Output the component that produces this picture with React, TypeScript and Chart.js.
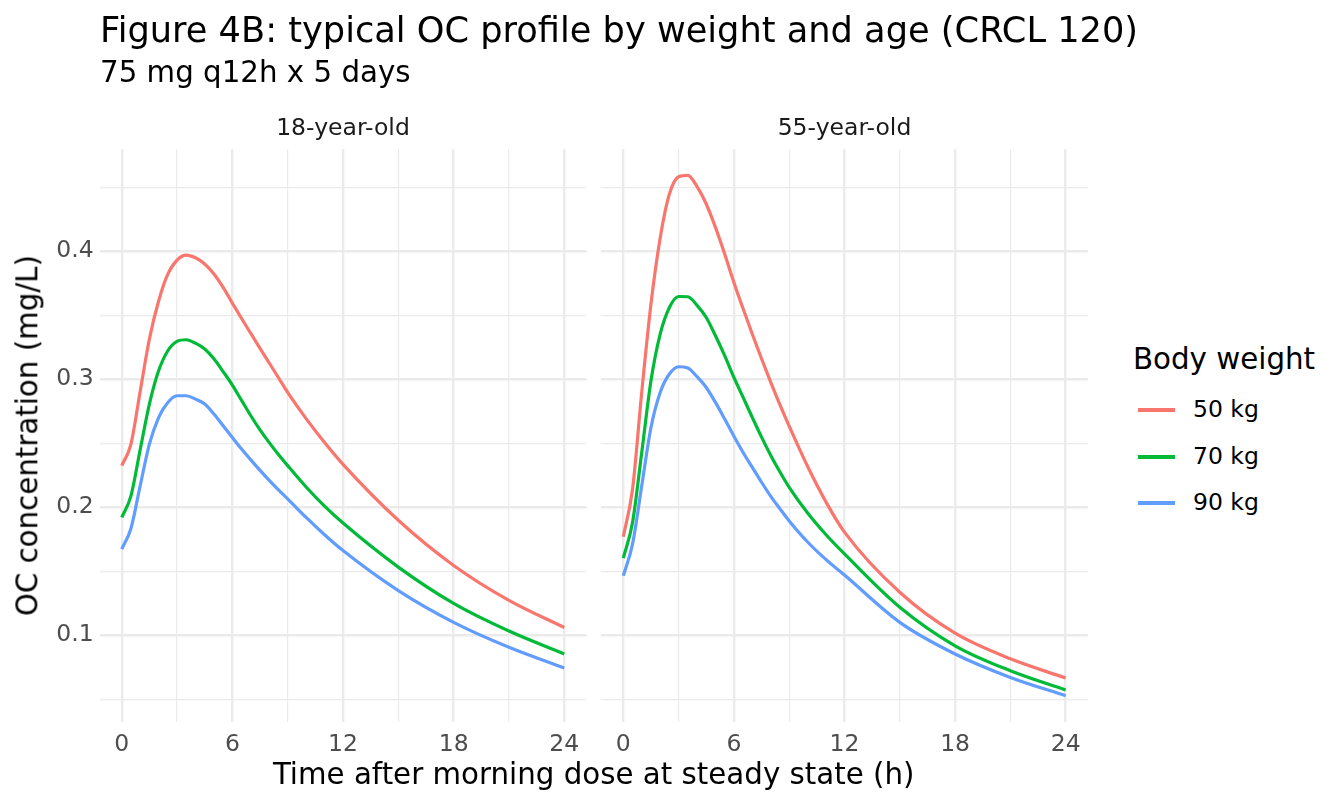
import React, { useEffect, useRef } from "react";
import { Chart, registerables } from "chart.js";

Chart.register(...registerables);

// Sampling times, hours after the morning dose at steady state
const hours = [0, 0.5, 1, 1.5, 2, 2.5, 3, 3.5, 4, 4.5, 5, 5.5, 6, 6.5, 7, 7.5, 8, 8.5, 9, 10, 11, 12, 15, 18, 21, 24];

// Typical OC concentration (mg/L), 18-year-old, CRCL 120
const conc18y50kg = [0.2325, 0.2493, 0.2905, 0.3314, 0.3612, 0.3822, 0.3932, 0.3971, 0.395, 0.3901, 0.3823, 0.3718, 0.3595, 0.3475, 0.3358, 0.3242, 0.3127, 0.3012, 0.2897, 0.2692, 0.2505, 0.2335, 0.1898, 0.1545, 0.1272, 0.106];
const conc18y70kg = [0.192, 0.2089, 0.2449, 0.2806, 0.3066, 0.3223, 0.3296, 0.3309, 0.3282, 0.3236, 0.316, 0.306, 0.2955, 0.2835, 0.2715, 0.2605, 0.2505, 0.2412, 0.2325, 0.2158, 0.2008, 0.1876, 0.1532, 0.1248, 0.1032, 0.0853];
const conc18y90kg = [0.1672, 0.1834, 0.2167, 0.2493, 0.2701, 0.2819, 0.2871, 0.2871, 0.2845, 0.2806, 0.2728, 0.2636, 0.2545, 0.2455, 0.237, 0.2288, 0.221, 0.2136, 0.2065, 0.192, 0.1785, 0.1661, 0.1348, 0.11, 0.0905, 0.0743];

// Typical OC concentration (mg/L), 55-year-old, CRCL 120
const conc55y50kg = [0.1769, 0.2141, 0.29, 0.3588, 0.4104, 0.4448, 0.4583, 0.4594, 0.4506, 0.437, 0.4187, 0.3979, 0.3757, 0.3551, 0.3352, 0.316, 0.2976, 0.28, 0.2633, 0.2318, 0.204, 0.1805, 0.1335, 0.1015, 0.0815, 0.0665];
const conc55y70kg = [0.1602, 0.188, 0.2428, 0.2988, 0.3353, 0.3561, 0.3647, 0.3645, 0.3578, 0.3483, 0.334, 0.3184, 0.3014, 0.2858, 0.2701, 0.2548, 0.2405, 0.2275, 0.2155, 0.1955, 0.1785, 0.1635, 0.1218, 0.0917, 0.0722, 0.0571];
const conc55y90kg = [0.1464, 0.1711, 0.2167, 0.2623, 0.2897, 0.3041, 0.3098, 0.3088, 0.302, 0.2936, 0.2819, 0.2689, 0.2555, 0.2428, 0.2311, 0.2195, 0.2085, 0.1987, 0.1893, 0.1728, 0.159, 0.147, 0.11, 0.0853, 0.067, 0.0527];

const weightLabels = ["50 kg", "70 kg", "90 kg"];
const weightColors = ["#F8766D", "#00BA38", "#619CFF"];
const panelLabels = ["18-year-old", "55-year-old"];
const xBreaks = [0, 6, 12, 18, 24];
const yBreaks = [0.1, 0.2, 0.3, 0.4];

const panelSeries = [
  [conc18y50kg, conc18y70kg, conc18y90kg],
  [conc55y50kg, conc55y70kg, conc55y90kg],
];

const FONT = "'DejaVu Sans', 'Liberation Sans', Arial, sans-serif";
const W = 1344;
const H = 806;

// Shared axis limits with 5% expansion on each side
const allValues = panelSeries.flat(2);
const dataMin = Math.min(...allValues);
const dataMax = Math.max(...allValues);
const ySpan = dataMax - dataMin;
const yMin = dataMin - 0.05 * ySpan;
const yMax = dataMax + 0.05 * ySpan;
const hMin = Math.min(...hours);
const hMax = Math.max(...hours);
const xMin = hMin - 0.05 * (hMax - hMin);
const xMax = hMax + 0.05 * (hMax - hMin);

const isBreak = (v: number, list: number[]) => list.some((b) => Math.abs(b - v) < 1e-6);

// Panel geometry
const PLOT_TOP = 149.3;
const PLOT_BOTTOM = 721.7;
const panels = [
  { canvasLeft: 0, canvasWidth: 600, plotLeft: 99.6, plotRight: 586.4, showY: true },
  { canvasLeft: 596, canvasWidth: 510, plotLeft: 601.2, plotRight: 1087.8, showY: false },
];

const GRID = "#EBEBEB";

function Panel({ index }: { index: number }) {
  const ref = useRef<HTMLCanvasElement | null>(null);
  const p = panels[index];
  useEffect(() => {
    if (!ref.current) return;
    const series = panelSeries[index];
    const yAxisWidth = p.showY ? p.plotLeft - p.canvasLeft : 0;
    const chart = new Chart(ref.current, {
      type: "line",
      data: {
        datasets: series.map((vals, i) => ({
          label: weightLabels[i],
          data: hours.map((h, j) => ({ x: h, y: vals[j] })),
          borderColor: weightColors[i],
          backgroundColor: weightColors[i],
          borderWidth: 3.2,
          pointRadius: 0,
          fill: false,
          cubicInterpolationMode: "monotone" as const,
          borderJoinStyle: "round" as const,
          order: 3 - i,
        })),
      },
      options: {
        animation: false,
        responsive: false,
        events: [],
        layout: {
          padding: {
            left: p.showY ? 0 : p.plotLeft - p.canvasLeft,
            right: p.canvasLeft + p.canvasWidth - p.plotRight,
            top: PLOT_TOP,
            bottom: 0,
          },
        },
        plugins: {
          legend: { display: false },
          tooltip: { enabled: false },
          title: { display: false },
        },
        scales: {
          x: {
            type: "linear",
            min: xMin,
            max: xMax,
            afterFit: (s: any) => {
              s.height = H - PLOT_BOTTOM;
            },
            border: { display: false },
            grid: {
              color: GRID,
              drawTicks: false,
              lineWidth: (ctx: any) => (isBreak(ctx.tick.value, xBreaks) ? 2.4 : 1.2),
            },
            ticks: {
              stepSize: 3,
              includeBounds: false,
              autoSkip: false,
              maxRotation: 0,
              padding: 9,
              color: "#4D4D4D",
              font: { family: FONT, size: 23.5 },
              callback: (v: any) => (isBreak(Number(v), xBreaks) ? String(Math.round(Number(v))) : ""),
            },
          },
          y: {
            type: "linear",
            min: yMin,
            max: yMax,
            afterFit: (s: any) => {
              s.width = yAxisWidth;
            },
            border: { display: false },
            grid: {
              color: GRID,
              drawTicks: false,
              lineWidth: (ctx: any) => (isBreak(ctx.tick.value, yBreaks) ? 2.4 : 1.2),
            },
            ticks: {
              display: p.showY,
              stepSize: 0.05,
              includeBounds: false,
              autoSkip: false,
              padding: 6,
              color: "#4D4D4D",
              font: { family: FONT, size: 23.5 },
              callback: (v: any) => (isBreak(Number(v), yBreaks) ? Number(v).toFixed(1) : ""),
            },
          },
        },
      },
    });
    return () => chart.destroy();
  }, [index]);
  return (
    <canvas
      ref={ref}
      width={p.canvasWidth}
      height={H}
      style={{ position: "absolute", left: p.canvasLeft, top: 0, width: p.canvasWidth, height: H }}
    />
  );
}

function Text({
  x,
  y,
  size,
  align = "left",
  color = "#000000",
  children,
}: {
  x: number;
  y: number;
  size: number;
  align?: "left" | "center";
  color?: string;
  children: React.ReactNode;
}) {
  const boxW = 1000;
  return (
    <div
      style={{
        position: "absolute",
        left: align === "center" ? x - boxW / 2 : x,
        width: align === "center" ? boxW : undefined,
        top: y - size / 2,
        height: size,
        lineHeight: `${size}px`,
        fontSize: size,
        fontFamily: FONT,
        color,
        textAlign: align,
        whiteSpace: "nowrap",
      }}
    >
      {children}
    </div>
  );
}

export default function App() {
  const legendY = [410, 457, 503];
  return (
    <div
      style={{
        position: "absolute",
        left: 0,
        top: 0,
        width: W,
        height: H,
        background: "#FFFFFF",
        overflow: "hidden",
      }}
    >
      <Panel index={0} />
      <Panel index={1} />

      <Text x={100} y={30} size={35.2}>
        Figure 4B: typical OC profile by weight and age (CRCL 120)
      </Text>
      <Text x={100} y={73} size={29.3}>
        75 mg q12h x 5 days
      </Text>

      {panelLabels.map((lab, i) => (
        <Text
          key={lab}
          x={(panels[i].plotLeft + panels[i].plotRight) / 2}
          y={128}
          size={23.5}
          align="center"
          color="#1A1A1A"
        >
          {lab}
        </Text>
      ))}

      <Text x={(panels[0].plotLeft + panels[1].plotRight) / 2} y={775} size={29.3} align="center">
        Time after morning dose at steady state (h)
      </Text>

      <div
        style={{
          position: "absolute",
          left: 28 - 400,
          top: (PLOT_TOP + PLOT_BOTTOM) / 2 - 29.3 / 2,
          width: 800,
          height: 29.3,
          lineHeight: "29.3px",
          fontSize: 29.3,
          fontFamily: FONT,
          textAlign: "center",
          whiteSpace: "nowrap",
          transform: "rotate(-90deg)",
          transformOrigin: "50% 50%",
          color: "#000000",
        }}
      >
        OC concentration (mg/L)
      </div>

      <Text x={1133} y={360} size={29.3}>
        Body weight
      </Text>
      {weightLabels.map((lab, i) => (
        <React.Fragment key={lab}>
          <div
            style={{
              position: "absolute",
              left: 1138,
              top: legendY[i] - 1.6,
              width: 37,
              height: 3.2,
              background: weightColors[i],
            }}
          />
          <Text x={1193} y={legendY[i]} size={23.5}>
            {lab}
          </Text>
        </React.Fragment>
      ))}
    </div>
  );
}
